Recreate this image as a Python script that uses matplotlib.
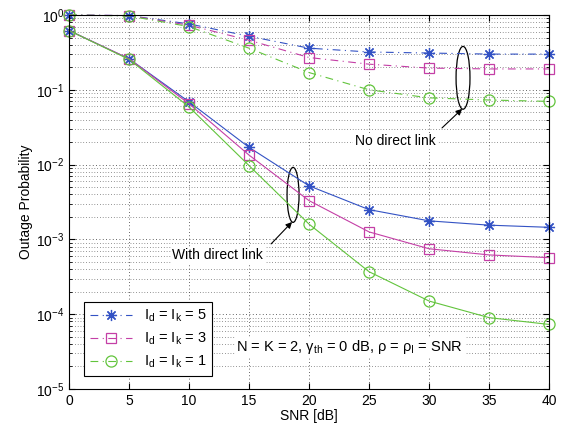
import matplotlib
matplotlib.use('Agg')
import matplotlib.pyplot as plt
from matplotlib.patches import Ellipse
from matplotlib.ticker import LogLocator, NullFormatter

plt.rcParams['font.family'] = ['Liberation Sans', 'DejaVu Sans']
plt.rcParams['mathtext.fontset'] = 'custom'
plt.rcParams['mathtext.rm'] = 'Liberation Sans'
plt.rcParams['mathtext.it'] = 'Liberation Sans:italic'
plt.rcParams['font.size'] = 10

snr = [0, 5, 10, 15, 20, 25, 30, 35, 40]

# with direct link (solid)
direct_5 = [0.62, 0.26, 0.069, 0.017, 0.0052, 0.0025, 0.00177, 0.00155, 0.00145]
direct_3 = [0.62, 0.26, 0.065, 0.0134, 0.0033, 0.00126, 0.00075, 0.00062, 0.00057]
direct_1 = [0.62, 0.255, 0.059, 0.0097, 0.0016, 0.00037, 0.00015, 0.00009, 0.000073]

# no direct link (dash-dot)
nodirect_5 = [1.0, 0.98, 0.76, 0.52, 0.36, 0.32, 0.31, 0.30, 0.30]
nodirect_3 = [1.0, 0.98, 0.73, 0.46, 0.27, 0.22, 0.195, 0.19, 0.19]
nodirect_1 = [1.0, 0.97, 0.70, 0.36, 0.17, 0.10, 0.078, 0.073, 0.070]

labels = [r'I$_{\rm d}$ = I$_{\rm k}$ = 5',
          r'I$_{\rm d}$ = I$_{\rm k}$ = 3',
          r'I$_{\rm d}$ = I$_{\rm k}$ = 1']
colors = ['#3352C4', '#C43FA6', '#62C43C']
markers = [(8, 2, 0), 's', 'o']
msizes = [8, 7, 8]
dashdot = (0, (7, 4, 1, 4))

fig = plt.figure(figsize=(5.63, 4.33), dpi=100)
ax = fig.add_axes([0.1226, 0.1016, 0.8526, 0.8638])

for d, nd, c, m, ms, lab in zip([direct_5, direct_3, direct_1],
                                [nodirect_5, nodirect_3, nodirect_1],
                                colors, markers, msizes, labels):
    style = dict(color=c, marker=m, markersize=ms, markerfacecolor='none',
                 markeredgecolor=c, linewidth=0.8, markeredgewidth=0.9)
    ax.semilogy(snr, nd, linestyle=dashdot, clip_on=False, **style)
    ax.semilogy(snr, d, linestyle='-', clip_on=False, **style)
    ax.plot([], [], linestyle=dashdot, label=lab, **style)

ax.set_xlim(0, 40)
ax.set_ylim(1e-5, 1)
ax.set_xticks(snr)
ax.yaxis.set_major_locator(LogLocator(base=10, numticks=10))
ax.yaxis.set_minor_locator(LogLocator(base=10, subs=range(2, 10), numticks=10))
ax.yaxis.set_minor_formatter(NullFormatter())
ax.tick_params(which='both', direction='in', top=True, right=True)
ax.tick_params(which='major', length=4, labelsize=10)
ax.tick_params(which='minor', length=2)
ax.grid(True, which='major', linestyle=(0, (1, 3)), color='#333333', linewidth=0.6)
ax.grid(True, which='minor', axis='y', linestyle=(0, (1, 3)), color='#333333', linewidth=0.5)
ax.set_xlabel('SNR [dB]', fontsize=10, labelpad=1)
ax.set_ylabel('Outage Probability', fontsize=10, labelpad=2)

# ellipses and annotations (axes fractions)
ax.add_patch(Ellipse((0.4667, 0.519), 0.025, 0.147, transform=ax.transAxes,
                     fill=False, edgecolor='k', linewidth=0.9))
ax.add_patch(Ellipse((0.8208, 0.832), 0.029, 0.168, transform=ax.transAxes,
                     fill=False, edgecolor='k', linewidth=0.9))
arrow = dict(arrowstyle='-|>', color='k', lw=0.8, mutation_scale=9,
             shrinkA=0, shrinkB=0)
ax.annotate('', xy=(0.4646, 0.4465), xytext=(0.421, 0.388),
            xycoords='axes fraction', arrowprops=arrow)
ax.annotate('', xy=(0.819, 0.749), xytext=(0.777, 0.698),
            xycoords='axes fraction', arrowprops=arrow)
ax.text(0.31, 0.358, 'With direct link', transform=ax.transAxes,
        ha='center', va='center', fontsize=10,
        bbox=dict(facecolor='white', edgecolor='none', pad=1))
ax.text(0.679, 0.663, 'No direct link', transform=ax.transAxes,
        ha='center', va='center', fontsize=10,
        bbox=dict(facecolor='white', edgecolor='none', pad=1))

leg = ax.legend(loc='lower left', bbox_to_anchor=(0.031, 0.035), fontsize=10.5,
                fancybox=False, edgecolor='k', framealpha=1, handlelength=2.9,
                borderpad=0.4, labelspacing=0.45, borderaxespad=0)
leg.get_frame().set_linewidth(0.8)

ax.text(0.585, 0.112, 'N = K = 2, γ$_{\\rm th}$ = 0 dB, ρ = ρ$_{\\rm I}$ = SNR',
        transform=ax.transAxes, ha='center', va='center', fontsize=10.5,
        bbox=dict(facecolor='white', edgecolor='none', pad=1))

fig.savefig('out.png', dpi=100)
